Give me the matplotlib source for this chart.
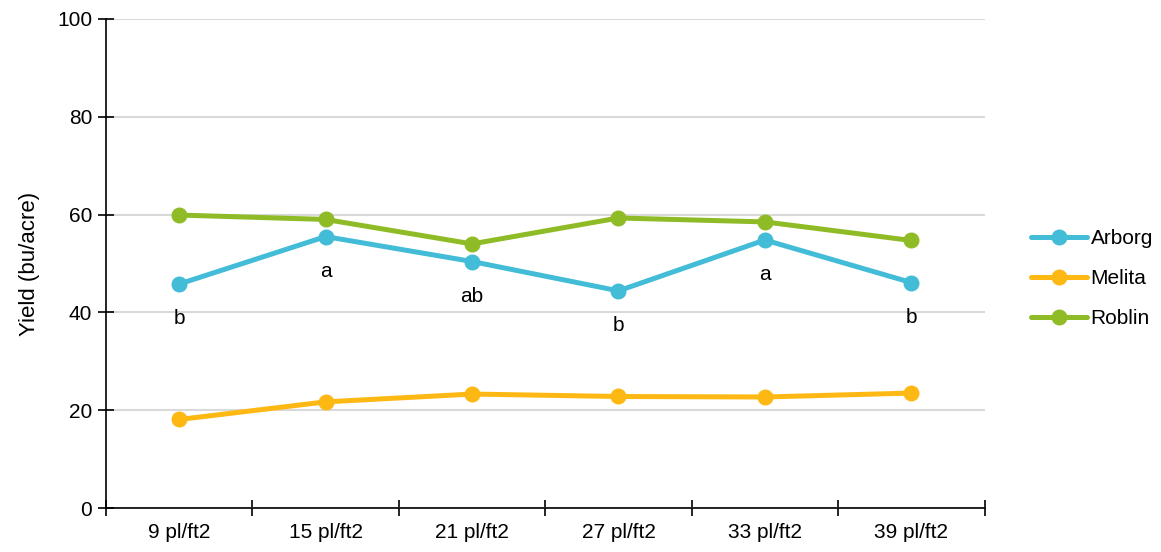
import numpy as np
import matplotlib.pyplot as plt

plt.rcParams['font.family'] = ['Liberation Sans', 'DejaVu Sans']

densities = ['9 pl/ft2', '15 pl/ft2', '21 pl/ft2', '27 pl/ft2', '33 pl/ft2', '39 pl/ft2']
arborg = [45.8, 55.5, 50.4, 44.4, 54.8, 46.1]
melita = [18.1, 21.7, 23.3, 22.8, 22.7, 23.5]
roblin = [59.9, 59.0, 54.0, 59.3, 58.5, 54.7]
arborg_letters = ['b', 'a', 'ab', 'b', 'a', 'b']

series = [
    ('Arborg', arborg, '#43BCD7'),
    ('Melita', melita, '#FDB813'),
    ('Roblin', roblin, '#8FBC26'),
]

fig = plt.figure(figsize=(11.61, 5.52), dpi=100)
ax = fig.add_axes([0.0913, 0.0797, 0.7567, 0.886])

x = np.arange(len(densities)) + 0.5
for name, vals, col in series:
    ax.plot(x, vals, color=col, lw=3.6, marker='o', ms=10.5, label=name,
            solid_capstyle='round', zorder=3)

# significance letters under the Arborg points
for xi, yi, lab in zip(x, arborg, arborg_letters):
    ax.annotate(lab, (xi, yi), xytext=(0, -25), textcoords='offset points',
                ha='center', va='center', fontsize=15)

ax.set_xlim(0, len(densities))
ax.set_ylim(0, 100)
ax.set_yticks(range(0, 101, 20))
ax.set_xticks(x)
ax.set_xticklabels(densities)
ax.set_xticks(np.arange(len(densities) + 1), minor=True)
ax.tick_params(axis='x', which='major', length=0, pad=11, labelsize=15)
ax.tick_params(axis='x', which='minor', direction='inout', length=12, width=1.2)
ax.tick_params(axis='y', direction='inout', length=12, width=1.2, pad=4, labelsize=15)

ax.grid(axis='y', color='#D9D9D9', lw=1.5, zorder=0)
ax.set_axisbelow(True)
for s in ['top', 'right']:
    ax.spines[s].set_visible(False)
for s in ['left', 'bottom']:
    ax.spines[s].set_linewidth(1.2)

ax.set_ylabel('Yield (bu/acre)', fontsize=16, labelpad=12)

fig.legend(loc='center left', bbox_to_anchor=(0.872, 0.495), frameon=False,
           fontsize=15, handlelength=2.7, handletextpad=0.15, labelspacing=1.0)

fig.savefig('out.png', dpi=100)
